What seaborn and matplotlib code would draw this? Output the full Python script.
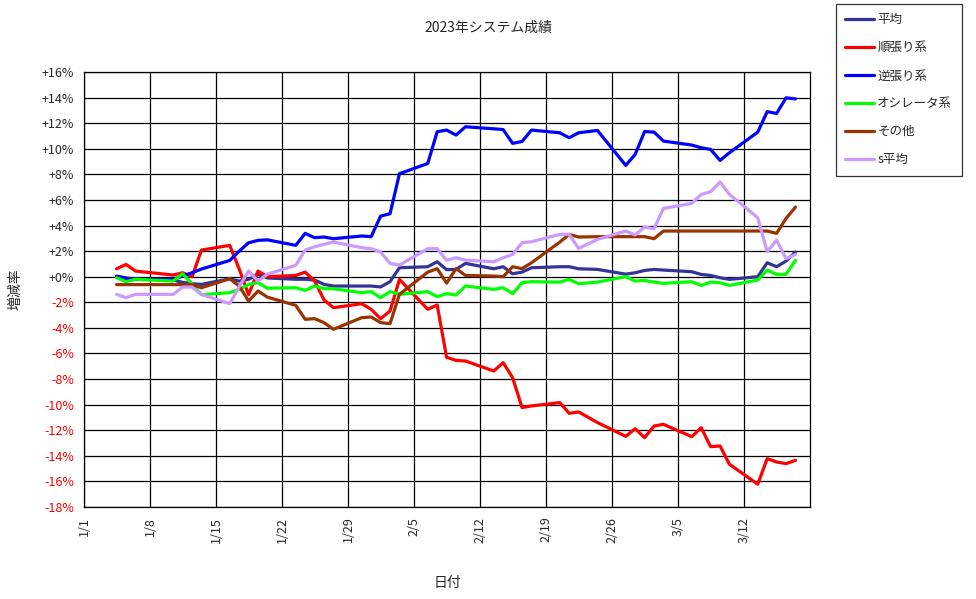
import pandas as pd
import numpy as np
import matplotlib
matplotlib.use("Agg")
import matplotlib.pyplot as plt
import seaborn as sns
from matplotlib.lines import Line2D

# trading days (2023)
dates = ['1/4', '1/5', '1/6', '1/10', '1/11', '1/12', '1/13', '1/16', '1/17', '1/18', '1/19', '1/20',
         '1/23', '1/24', '1/25', '1/26', '1/27', '1/30', '1/31', '2/1', '2/2', '2/3',
         '2/6', '2/7', '2/8', '2/9', '2/10', '2/13', '2/14', '2/15', '2/16', '2/17',
         '2/20', '2/21', '2/22', '2/24', '2/27', '2/28', '3/1', '3/2', '3/3',
         '3/6', '3/7', '3/8', '3/9', '3/10', '3/13', '3/14', '3/15', '3/16', '3/17']

heikin = [0.0, -0.26, -0.2, -0.26, -0.44, -0.55, -0.6, -0.16, -0.34, -0.2, 0.18, -0.1,
          -0.2, -0.2, -0.26, -0.6, -0.73, -0.73, -0.73, -0.8, -0.39, 0.7,
          0.78, 1.17, 0.55, 0.57, 1.04, 0.62, 0.78, 0.23, 0.36, 0.7,
          0.78, 0.78, 0.62, 0.57, 0.2, 0.31, 0.49, 0.57, 0.52,
          0.39, 0.18, 0.1, -0.08, -0.21, 0.0, 1.09, 0.78, 1.22, 1.93]

junbari = [0.62, 0.96, 0.44, 0.13, 0.31, 0.0, 2.08, 2.45, 0.6, -1.4, 0.44, 0.0,
           0.1, 0.36, -0.34, -1.82, -2.42, -2.11, -2.55, -3.28, -2.68, -0.21,
           -2.55, -2.21, -6.3, -6.54, -6.59, -7.37, -6.72, -7.89, -10.23, -10.1,
           -9.84, -10.68, -10.57, -11.4, -12.48, -11.88, -12.58, -11.67, -11.54,
           -12.5, -11.8, -13.28, -13.23, -14.66, -16.22, -14.22, -14.48, -14.61, -14.35]

gyakubari = [0.05, -0.1, -0.2, -0.2, 0.05, 0.31, 0.6, 1.27, 2.0, 2.65, 2.84, 2.88,
             2.45, 3.39, 3.05, 3.1, 2.97, 3.18, 3.13, 4.74, 4.92, 8.05,
             8.85, 11.33, 11.46, 11.07, 11.72, 11.56, 11.5, 10.42, 10.57, 11.46,
             11.25, 10.86, 11.25, 11.43, 8.7, 9.56, 11.35, 11.3, 10.6,
             10.29, 10.08, 9.95, 9.09, 9.69, 11.3, 12.9, 12.76, 13.98, 13.9]

oscillator = [-0.08, -0.39, -0.2, -0.34, 0.23, -0.57, -1.41, -1.25, -0.99, -0.6, -0.47, -0.9,
              -0.86, -1.07, -0.73, -0.94, -0.94, -1.25, -1.17, -1.64, -1.17, -1.38,
              -1.17, -1.56, -1.33, -1.43, -0.73, -0.99, -0.86, -1.33, -0.47, -0.39,
              -0.42, -0.21, -0.55, -0.42, 0.0, -0.34, -0.29, -0.42, -0.52,
              -0.39, -0.68, -0.42, -0.47, -0.68, -0.26, 0.52, 0.18, 0.18, 1.28]

sonota = [-0.62, -0.62, -0.62, -0.62, -0.62, -0.62, -0.86, -0.16, -0.73, -1.9, -1.12, -1.6,
          -2.24, -3.33, -3.28, -3.59, -4.11, -3.2, -3.15, -3.59, -3.67, -1.38,
          0.36, 0.63, -0.5, 0.63, 0.1, 0.05, 0.0, 0.78, 0.63, 1.09,
          2.7, 3.31, 3.1, 3.13, 3.13, 3.13, 3.13, 2.97, 3.57,
          3.57, 3.57, 3.57, 3.57, 3.57, 3.57, 3.57, 3.39, 4.55, 5.44]

s_heikin = [-1.38, -1.64, -1.38, -1.38, -0.81, -0.81, -1.38, -2.11, -0.78, 0.44, -0.34, 0.2,
            0.89, 2.08, 2.34, 2.53, 2.71, 2.27, 2.19, 1.93, 1.04, 0.91,
            2.19, 2.19, 1.28, 1.48, 1.3, 1.17, 1.48, 1.74, 2.66, 2.73,
            3.31, 3.31, 2.21, 2.92, 3.57, 3.26, 3.88, 3.75, 5.34,
            5.73, 6.43, 6.64, 7.4, 6.43, 4.61, 1.95, 2.86, 1.41, 1.74]

labels = ['平均', '順張り系', '逆張り系', 'オシレータ系', 'その他', 's平均']
colors = ['#333399', '#FF0000', '#0000FF', '#00FF00', '#993300', '#CC99FF']
yticks = list(range(-18, 17, 2))

sns.set_style("white")
plt.rcParams['font.family'] = ['Noto Sans CJK JP', 'DejaVu Sans']

df = pd.DataFrame({'日付': pd.to_datetime(['2023/' + d for d in dates]) + pd.Timedelta(hours=11),
                   '平均': heikin, '順張り系': junbari, '逆張り系': gyakubari,
                   'オシレータ系': oscillator, 'その他': sonota, 's平均': s_heikin})
long = df.melt(id_vars='日付', var_name='系', value_name='増減率')

fig = plt.figure(figsize=(9.76, 5.99), dpi=100)
ax = fig.add_axes([84 / 976, 1 - 507 / 599, (810 - 84) / 976, (507 - 72) / 599])

sns.lineplot(data=long, x='日付', y='増減率', hue='系', hue_order=labels,
             palette=dict(zip(labels, colors)), linewidth=2.3, legend=False,
             sort=False, ax=ax, zorder=3)

xt = pd.date_range('2023-01-01', '2023-03-12', freq='7D')
ax.set_xticks(xt)
ax.set_xticklabels([f"{d.month}/{d.day}" for d in xt], rotation=90, fontsize=9)
ax.set_xlim(pd.Timestamp('2023-01-01'), pd.Timestamp('2023-03-19'))
ax.set_yticks(yticks)
ax.set_yticklabels([f"{v:+d}%" for v in yticks], fontsize=9)
for t, v in zip(ax.get_yticklabels(), yticks):
    if v < 0:
        t.set_color('red')
ax.set_ylim(-18, 16)

ax.grid(True, color='black', linewidth=0.9)
ax.set_axisbelow(True)
for s in ax.spines.values():
    s.set_color('black')
    s.set_linewidth(0.9)
ax.tick_params(axis='both', direction='out', length=3, width=0.9, color='black', pad=4)

ax.set_xlabel('日付', fontsize=10, labelpad=24)
ax.set_ylabel('増減率', fontsize=10, labelpad=14)
fig.text(488 / 976, 1 - 28 / 599, '2023年システム成績', ha='center', va='center', fontsize=10)

handles = [Line2D([0], [0], color=c, linewidth=2.3) for c in colors]
leg = fig.legend(handles, labels, loc='upper left', bbox_to_anchor=(836 / 976, 1 - 4 / 599),
                 frameon=True, fancybox=False, edgecolor='black', fontsize=9,
                 handlelength=2.3, handletextpad=0.25, labelspacing=1.2, borderpad=0.75,
                 borderaxespad=0)
leg.get_frame().set_linewidth(0.9)

plt.savefig('out.png', dpi=100)
